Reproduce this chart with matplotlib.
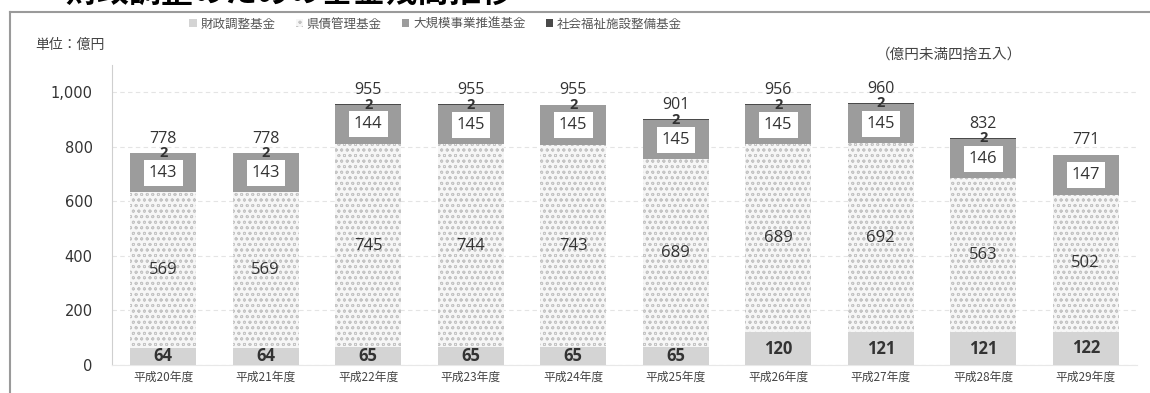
import matplotlib
matplotlib.use("Agg")
import matplotlib.pyplot as plt
from matplotlib.lines import Line2D
import numpy as np

plt.rcParams['font.family'] = ['Noto Sans CJK JP', 'DejaVu Sans']
plt.rcParams['hatch.linewidth'] = 0.6

# 年度
years = ['平成20年度', '平成21年度', '平成22年度', '平成23年度', '平成24年度',
         '平成25年度', '平成26年度', '平成27年度', '平成28年度', '平成29年度']

# 基金残高（億円）
zaisei = [64, 64, 65, 65, 65, 65, 120, 121, 121, 122]          # 財政調整基金
kensai = [569, 569, 745, 744, 743, 689, 689, 692, 563, 502]    # 県債管理基金
daikibo = [143, 143, 144, 145, 145, 145, 145, 145, 146, 147]   # 大規模事業推進基金
shakai = [2, 2, 2, 2, 2, 2, 2, 2, 2, 0]                        # 社会福祉施設整備基金
totals = [778, 778, 955, 955, 955, 901, 956, 960, 832, 771]    # 合計（四捨五入）

series_names = ['財政調整基金', '県債管理基金', '大規模事業推進基金', '社会福祉施設整備基金']

fig = plt.figure(figsize=(11.5, 3.93), dpi=100)
ax = fig.add_axes([112 / 1150, 1 - 365 / 393, (1137 - 112) / 1150, (365 - 65) / 393])

x = np.arange(len(years))
w = 0.64
num_font = ['Open Sans', 'DejaVu Sans']

b1 = ax.bar(x, zaisei, w, color='#d4d4d4', edgecolor='none', zorder=3)
bottom2 = np.array(zaisei)
b2 = ax.bar(x, kensai, w, bottom=bottom2, color='#f6f6f6', edgecolor='#c4c4c4',
            hatch='ooo', linewidth=0, zorder=3)
bottom3 = bottom2 + np.array(kensai)
b3 = ax.bar(x, daikibo, w, bottom=bottom3, color='#9c9c9c', edgecolor='none', zorder=3)
bottom4 = bottom3 + np.array(daikibo)
b4 = ax.bar(x, shakai, w, bottom=bottom4, color='#4a4a4a', edgecolor='none', zorder=3)

for i in range(len(years)):
    ax.text(x[i], zaisei[i] / 2, str(zaisei[i]), ha='center', va='center',
            fontsize=12, fontweight='bold', color='#333333', family=num_font, zorder=5)
    ax.text(x[i], bottom2[i] + kensai[i] / 2, str(kensai[i]), ha='center', va='center',
            fontsize=12, color='#333333', family=num_font, zorder=5)
    ax.text(x[i], bottom3[i] + daikibo[i] / 2, str(daikibo[i]), ha='center', va='center',
            fontsize=12, color='#333333', family=num_font, zorder=5,
            bbox=dict(boxstyle='square,pad=0.3', fc='white', ec='none'))
    if shakai[i] > 0:
        ax.text(x[i], bottom4[i] + shakai[i] / 2, str(shakai[i]), ha='center', va='center',
                fontsize=10.5, fontweight='bold', color='#333333', family=num_font, zorder=5)
    ax.annotate(str(totals[i]), (x[i], bottom4[i] + shakai[i]), xytext=(0, 4.5),
                textcoords='offset points', ha='center', va='bottom',
                fontsize=11.5, color='#333333', family=num_font, zorder=6)

ax.set_xlim(-0.5, len(years) - 0.5)
ax.set_ylim(0, 1100)
ax.set_yticks([0, 200, 400, 600, 800, 1000])
ax.set_yticklabels(['0', '200', '400', '600', '800', '1,000'], family=['DejaVu Sans'],
                   fontsize=10.5, color='#333333')
ax.set_xticks(x)
ax.set_xticklabels(years, fontsize=8.5, color='#444444')
ax.tick_params(axis='y', length=0, pad=14)
ax.tick_params(axis='x', length=0, pad=4)
ax.grid(axis='y', color='#e4e4e4', linewidth=0.8, linestyle=(0, (4, 3)), zorder=0)
for s in ['top', 'right']:
    ax.spines[s].set_visible(False)
ax.spines['left'].set_color('#cfcfcf')
ax.spines['bottom'].set_color('#e8e8e8')

leg = fig.legend([b1, b2, b3, b4], series_names, loc='center left',
                 bbox_to_anchor=(178 / 1150, 1 - 24 / 393), ncol=4, frameon=False,
                 fontsize=9, handlelength=0.6, handleheight=0.6, handletextpad=0.3,
                 columnspacing=1.6, labelcolor='#555555')

fig.text(35 / 1150, 1 - 45 / 393, '単位：億円', fontsize=10, color='#444444',
         ha='left', va='center')
fig.text(1022 / 1150, 1 - 55 / 393, '（億円未満四捨五入）', fontsize=10.5, color='#444444',
         ha='right', va='center')

# 見出し（上端で切れている）
fig.text(65 / 1150, 1 - 2 / 393, '財政調整のための基金残高推移', fontsize=23,
         fontweight='bold', color='black', ha='left', va='baseline')

# 外枠
fig.add_artist(Line2D([10 / 1150, 1.0], [1 - 12 / 393, 1 - 12 / 393],
                      transform=fig.transFigure, color='#9a9a9a', linewidth=1.5))
fig.add_artist(Line2D([10 / 1150, 10 / 1150], [0.0, 1 - 12 / 393],
                      transform=fig.transFigure, color='#9a9a9a', linewidth=1.5))

fig.savefig('out.png', dpi=100, facecolor='white')
